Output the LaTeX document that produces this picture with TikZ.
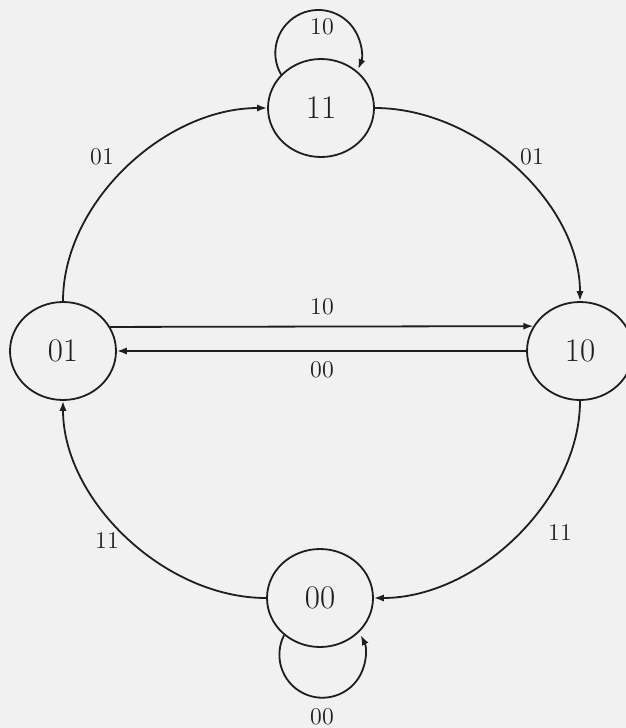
\documentclass[tikz,border=0pt]{standalone}
\usetikzlibrary{arrows.meta,shapes.geometric}
\definecolor{bgc}{HTML}{F1F1F1}
\definecolor{ink}{HTML}{1E1E1E}
\begin{document}
\begin{tikzpicture}[x=0.5pt,y=-0.5pt,
  state/.style={draw=ink,ellipse,line width=0.9pt,minimum width=53pt,minimum height=49pt,inner sep=0pt,font=\fontsize{16.5}{19}\selectfont,text=ink},
  lbl/.style={font=\fontsize{12}{14}\selectfont,text=ink,inner sep=0pt},
  edge/.style={draw=ink,line width=0.9pt,-{Latex[length=5pt,width=3.6pt]}}]
\fill[bgc] (0,0) rectangle (626,728);
\useasboundingbox (0,0) rectangle (626,728);
\node[state] (s11) at (321,108) {11};
\node[state] (s01) at (63,351) {01};
\node[state] (s10) at (580,351) {10};
\node[state] (s00) at (320,598) {00};
% arcs
\draw[edge] (s01.north) .. controls +(0,-98) and +(-103,0) .. (s11.west);
\draw[edge] (s11.east) .. controls +(102,0) and +(0,-98) .. (s10.north);
\draw[edge] (s10.south) .. controls +(0,99) and +(103,0) .. (s00.east);
\draw[edge] (s00.west) .. controls +(-102,0) and +(0,99) .. (s01.south);
% straight
\draw[edge] (s01.27.5) -- (s10.152.5);
\draw[edge] (s10.west) -- (s01.east);
% loops
\draw[edge] (s11.140) arc[start angle=150,end angle=382,radius=43];
\draw[edge] (s00.-134) arc[start angle=207,end angle=-27,radius=43];
% labels
\node[lbl] (l1) at (102,157) {01};
\node[lbl] (l2) at (532,157) {01};
\node[lbl] (l3) at (560,533) {11};
\node[lbl] (l4) at (107,541) {11};
\node[lbl] (l5) at (322,307) {10};
\node[lbl] (l6) at (322,370) {00};
\node[lbl] (l7) at (322,27) {10};
\node[lbl] (l8) at (322,717) {00};
\end{tikzpicture}
\end{document}
